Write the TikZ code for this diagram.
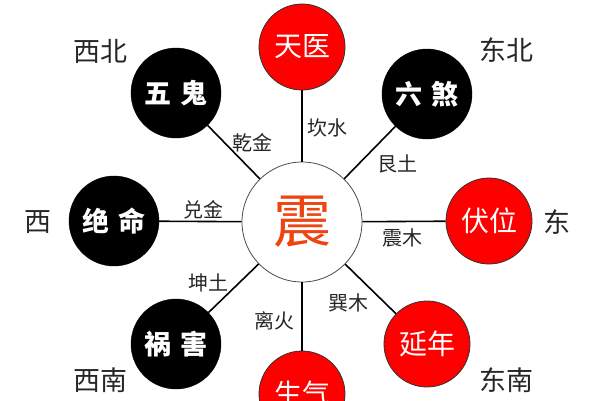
\documentclass[tikz,border=0pt]{standalone}
\usepackage{fontspec}
\setmainfont{Noto Sans CJK SC}
\definecolor{zhen}{HTML}{EE4411}
\definecolor{palred}{HTML}{FF0000}
\begin{document}
\begin{tikzpicture}[x=1pt,y=-1pt,
  redpal/.style={circle,fill=palred,draw=black!80,line width=0.8pt,minimum size=86pt,inner sep=0pt,text=white,font=\fontsize{28}{28}\selectfont},
  blackpal/.style={circle,fill=black,draw=black,minimum size=90pt,inner sep=0pt,text=white,font=\fontsize{27}{27}\selectfont\bfseries},
  hub/.style={circle,fill=white,draw=black!70,line width=0.8pt,minimum size=120pt,inner sep=0pt,text=zhen,font=\fontsize{58}{58}\selectfont},
  dirlabel/.style={font=\fontsize{27}{27}\selectfont,text=black!85},
  trigram/.style={font=\fontsize{20}{20}\selectfont,text=black!85},
  link/.style={line width=1.6pt,black}]
\useasboundingbox (0,0) rectangle (600,400);
\node[hub] (c) at (302,222) {震};
\node[redpal] (tianyi) at (302,47) {天医};
\node[redpal] (shengqi) at (302,394) {生气};
\node[redpal] (fuwei) at (489,221) {伏位};
\node[redpal] (yannian) at (427,344) {延年};
\node[blackpal] (wugui) at (176,93) {五\hspace{9pt}鬼};
\node[blackpal] (liusha) at (427,94) {六\hspace{9pt}煞};
\node[blackpal] (jueming) at (114,221) {绝\hspace{9pt}命};
\node[blackpal] (fuhai) at (176,344) {祸\hspace{9pt}害};
\draw[link] (c) -- (tianyi);
\draw[link] (c) -- (shengqi);
\draw[link] (c) -- (fuwei);
\draw[link] (c) -- (yannian);
\draw[link] (c) -- (wugui);
\draw[link] (c) -- (liusha);
\draw[link] (c) -- (jueming);
\draw[link] (c) -- (fuhai);
\node[trigram] (qian) at (252,143) {乾金};
\node[trigram] (kan) at (327,128) {坎水};
\node[trigram] (gen) at (397,164) {艮土};
\node[trigram] (dui) at (203,210) {兑金};
\node[trigram] (zhenmu) at (402,238) {震木};
\node[trigram] (kun) at (208,283) {坤土};
\node[trigram] (li) at (274,321) {离火};
\node[trigram] (xun) at (348,303) {巽木};
\node[dirlabel] (xibei) at (100,51) {西北};
\node[dirlabel] (dongbei) at (506,50) {东北};
\node[dirlabel] (xi) at (38,222) {西};
\node[dirlabel] (dong) at (557,222) {东};
\node[dirlabel] (xinan) at (100,380) {西南};
\node[dirlabel] (dongnan) at (506,380) {东南};
\end{tikzpicture}
\end{document}
